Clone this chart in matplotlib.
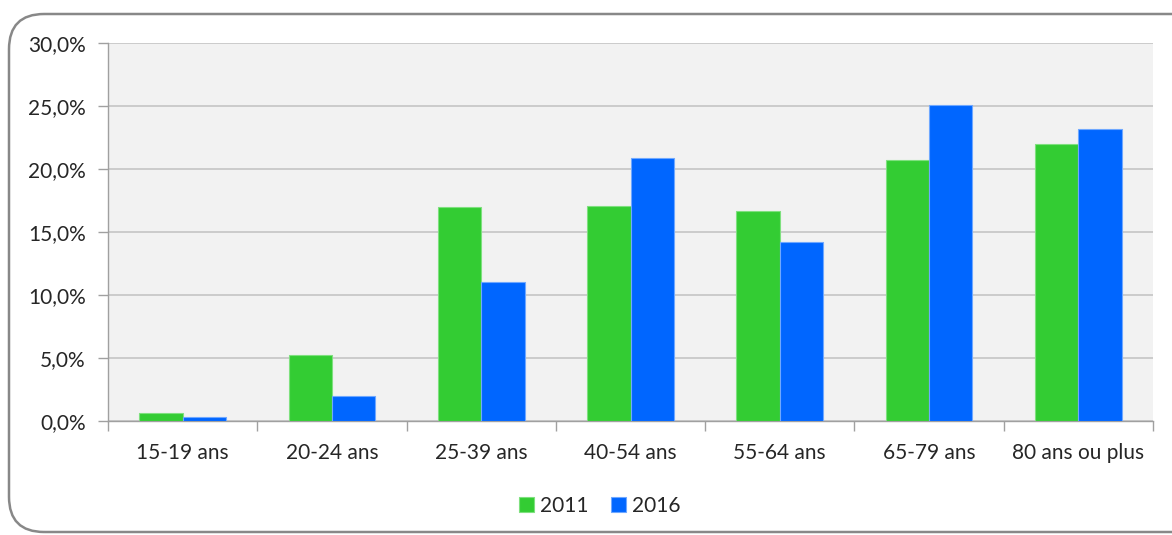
import matplotlib.pyplot as plt
from matplotlib.patches import FancyBboxPatch
from matplotlib.ticker import FuncFormatter
import numpy as np

plt.rcParams['font.family'] = ['Lato', 'DejaVu Sans']

categories = ['15-19 ans', '20-24 ans', '25-39 ans', '40-54 ans',
              '55-64 ans', '65-79 ans', '80 ans ou plus']
vals_2011 = [0.6, 5.2, 17.0, 17.1, 16.7, 20.7, 22.0]
vals_2016 = [0.3, 2.0, 11.0, 20.9, 14.2, 25.05, 23.2]

green = '#33CC33'
blue = '#0066FF'
txt = '#262626'

fig = plt.figure(figsize=(11.72, 5.35), dpi=100)
ax = fig.add_axes([108 / 1172, 1 - 421 / 535, 1045 / 1172, 378 / 535])

# rounded frame around the whole chart
frame = FancyBboxPatch((9 / 1172, 3 / 535), 1200 / 1172, 518 / 535,
                       boxstyle='round,pad=0,rounding_size=0.03',
                       transform=fig.transFigure, facecolor='none',
                       edgecolor='#888888', linewidth=1.8, zorder=0,
                       mutation_aspect=1172 / 535)
fig.patches.append(frame)

x = np.arange(len(categories))
w = 0.29
ax.bar(x - w / 2, vals_2011, w, color=green, edgecolor='#7FE07F',
       linewidth=0.8, label='2011', zorder=3)
ax.bar(x + w / 2, vals_2016, w, color=blue, edgecolor='#6FA8FF',
       linewidth=0.8, label='2016', zorder=3)

ax.set_facecolor('#F2F2F2')
ax.set_xlim(-0.5, len(categories) - 0.5)
ax.set_ylim(0, 30)
ax.set_yticks(np.arange(0, 31, 5))
ax.yaxis.set_major_formatter(FuncFormatter(lambda v, p: f'{v:.1f}%'.replace('.', ',')))
ax.grid(axis='y', color='#C8C8C8', linewidth=1.3, zorder=1)

# category labels centred, ticks on the boundaries
ax.set_xticks(np.arange(-0.5, len(categories), 1.0))
ax.set_xticklabels([])
ax.set_xticks(x, minor=True)
ax.set_xticklabels(categories, minor=True)
ax.tick_params(axis='x', which='minor', length=0, pad=16,
               labelsize=15, labelcolor=txt)
ax.tick_params(axis='x', which='major', length=7, color='#A0A0A0', width=1)
ax.tick_params(axis='y', length=7, color='#A0A0A0', width=1, pad=9,
               labelsize=15, labelcolor=txt)

for s in ['top', 'right']:
    ax.spines[s].set_visible(False)
for s in ['left', 'bottom']:
    ax.spines[s].set_color('#A0A0A0')
    ax.spines[s].set_linewidth(1)

fig.legend(loc='center', bbox_to_anchor=(600 / 1172, 1 - 506 / 535),
           ncol=2, frameon=False, fontsize=15, handlelength=0.7,
           handleheight=0.7, handletextpad=0.3, columnspacing=1.1,
           labelcolor=txt)

fig.savefig('out.png', dpi=100, facecolor='white')
